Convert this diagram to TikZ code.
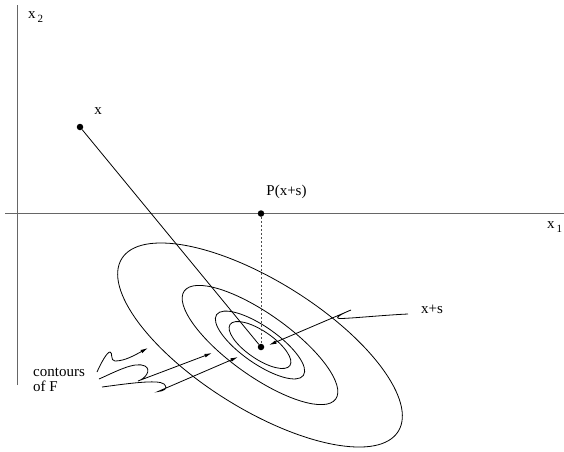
\documentclass[tikz,border=0pt]{standalone}
\usepackage{fontspec}
\setmainfont{Liberation Serif}
\usetikzlibrary{arrows.meta}
\begin{document}
\begin{tikzpicture}[x=1pt,y=-1pt,
  lbl/.style={inner sep=0pt,font=\fontsize{15}{15}\selectfont},
  axis/.style={draw=black!60,line width=1pt},
  curve/.style={draw=black,line width=0.8pt},
  ptdot/.style={circle,fill=black,inner sep=0pt,minimum size=6.5pt},
  arr/.style={draw=black,line width=0.8pt,-{Latex[length=7.5pt,width=3.6pt]}},
  proj/.style={draw=black!70,line width=0.9pt,dash pattern=on 2pt off 2pt}]
\useasboundingbox (0,0) rectangle (564,451);
% axes
\coordinate (ytop) at (17,5);
\coordinate (ybot) at (17,385);
\coordinate (xl) at (5,213.5);
\coordinate (xr) at (564,213.5);
\draw[axis] (ybot) -- (ytop);
\draw[axis] (xl) -- (xr);
\node[lbl,anchor=base west] (lx2) at (28,18) {x\hspace{2pt}\raisebox{-4pt}{\fontsize{11}{11}\selectfont 2}};
\node[lbl,anchor=base west] (lx1) at (547,228) {x\hspace{2pt}\raisebox{-4pt}{\fontsize{11}{11}\selectfont 1}};
% contours
\coordinate (c) at (260,345);
\draw[curve,shift={(c)},rotate=-32] (0,0) ellipse[x radius=163, y radius=64];
\draw[curve,shift={(c)},rotate=-35.5] (0,0) ellipse[x radius=93, y radius=31];
\draw[curve,shift={(c)},rotate=-35] (0,0) ellipse[x radius=53, y radius=18.4];
\draw[curve,shift={(c)},rotate=-34.5] (0,0) ellipse[x radius=36.3, y radius=13.8];
% points
\node[ptdot] (px) at (80,127) {};
\node[ptdot] (pp) at (261,213.5) {};
\node[ptdot] (pc) at (261,347) {};
\draw[curve] (px) -- (pc);
\draw[proj] (pp) -- (pc);
\node[lbl,anchor=base] (lx) at (98,114) {x};
\node[lbl,anchor=base] (lp) at (286.5,195.5) {P(x+s)};
\node[lbl,anchor=base] (lxs) at (432,313) {x+s};
\node[lbl,anchor=base west] (lc1) at (33,376) {contours};
\node[lbl,anchor=base west] (lc2) at (33,391) {of F};
% x+s arrow
\coordinate (s0) at (408,314);
\coordinate (s1) at (269,345);
\draw[arr] (s0) .. controls (385,315) and (350,318.5) .. (340,318.5)
  .. controls (333,318.5) and (343,313) .. (351,310) -- (s1);
% contour arrows
\coordinate (a0) at (97,372);
\coordinate (a1) at (148,348);
\draw[arr] (a0) .. controls (101,363) and (107,352) .. (110,352)
  .. controls (113,352) and (110,361) .. (115,361)
  .. controls (125,361) and (135,355) .. (a1);
\coordinate (b0) at (99,379);
\coordinate (b1) at (212,353);
\draw[arr] (b0) .. controls (115,372) and (135,361) .. (145,366)
  .. controls (152,370) and (145,379) .. (138,381) -- (b1);
\coordinate (d0) at (102,387);
\coordinate (d1) at (238,357);
\draw[arr] (d0) .. controls (125,384) and (158,379) .. (164,384)
  .. controls (169,389) and (163,391) .. (158,391.5) -- (d1);
\end{tikzpicture}
\end{document}
